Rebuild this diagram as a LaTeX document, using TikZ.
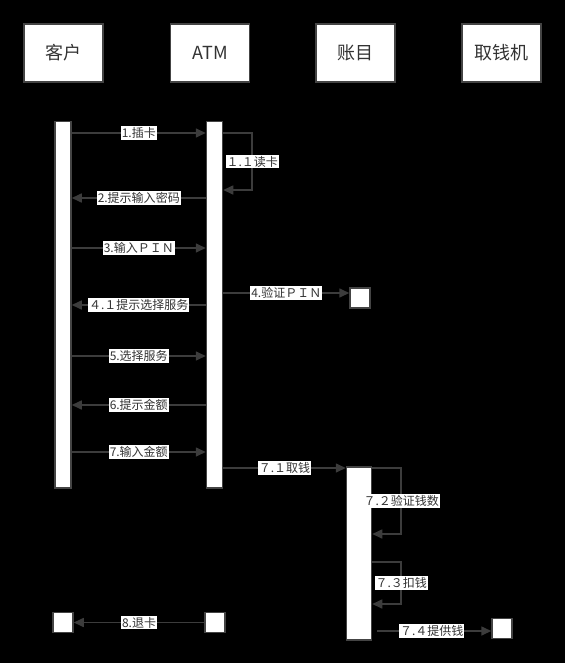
\documentclass[tikz,border=0pt]{standalone}
\usepackage{fontspec}
\setmainfont{Noto Sans CJK SC}
\usepackage{tikz}
\usetikzlibrary{arrows.meta}
\definecolor{linegray}{HTML}{3C3C3C}
\definecolor{boxgray}{HTML}{444444}
\definecolor{txtgray}{HTML}{333333}

\begin{document}
\begin{tikzpicture}[x=1pt,y=-1pt,
  actor/.style={draw=boxgray,line width=1.5pt,fill=white,text=txtgray,minimum width=79pt,minimum height=58pt,font=\fontsize{18}{21}\selectfont},
  bar/.style={draw=boxgray,line width=1.5pt,fill=white,anchor=north,inner sep=0pt},
  endbox/.style={draw=boxgray,line width=1.5pt,fill=white,minimum size=20pt,inner sep=0pt},
  msg/.style={draw=linegray,line width=1.6pt,-{Triangle[length=10pt,width=9pt]}},
  lbl/.style={fill=white,text=txtgray,inner sep=1pt,font=\fontsize{12}{14}\selectfont}]
\fill[black] (0,0) rectangle (565,663);
\useasboundingbox (0,0) rectangle (565,663);

\node[actor] (kehu) at (63.5,53) {客户};
\node[actor] (atm) at (210,53) {ATM};
\node[actor] (zhangmu) at (355.5,53) {账目};
\node[actor] (quqianji) at (501.5,53) {取钱机};

\node[bar,minimum width=16pt,minimum height=366pt] (kehubar) at (63,121) {};
\node[bar,minimum width=16pt,minimum height=366pt] (atmbar) at (214.5,121) {};
\node[bar,minimum width=25pt,minimum height=173pt] (zhangbar) at (359,466) {};

\node[endbox] (zhangbox) at (360,298) {};
\node[endbox] (qubox) at (502,628.5) {};
\node[endbox] (kehuend) at (63,622.5) {};
\node[endbox] (atmend) at (215,622.5) {};

\draw[msg] (kehubar.east |- 0,133) -- (atmbar.west |- 0,133) node[midway,lbl] {1.插卡};
\draw[msg] (atmbar.east |- 0,133) -- ++(29,0) -- ++(0,57) node[midway,lbl] {１.１读卡} -- (atmbar.east |- 0,190);
\draw[msg] (atmbar.west |- 0,198) -- (kehubar.east |- 0,198) node[midway,lbl] {2.提示输入密码};
\draw[msg] (kehubar.east |- 0,248) -- (atmbar.west |- 0,248) node[midway,lbl] {3.输入ＰＩＮ};
\draw[msg] (atmbar.east |- 0,293) -- (zhangbox.west |- 0,293) node[midway,lbl] {4.验证ＰＩＮ};
\draw[msg] (atmbar.west |- 0,305) -- (kehubar.east |- 0,305) node[midway,lbl] {４.１提示选择服务};
\draw[msg] (kehubar.east |- 0,356) -- (atmbar.west |- 0,356) node[midway,lbl] {5.选择服务};
\draw[msg] (atmbar.west |- 0,405) -- (kehubar.east |- 0,405) node[midway,lbl] {6.提示金额};
\draw[msg] (kehubar.east |- 0,452) -- (atmbar.west |- 0,452) node[midway,lbl] {7.输入金额};
\draw[msg] (atmbar.east |- 0,468) -- (zhangbar.west |- 0,468) node[midway,lbl] {７.１取钱};
\draw[msg] (zhangbar.east |- 0,468) -- ++(29,0) -- ++(0,66) node[midway,lbl] {７.２验证钱数} -- (zhangbar.east |- 0,534);
\draw[msg] (zhangbar.east |- 0,562) -- ++(29,0) -- ++(0,42) node[midway,lbl] {７.３扣钱} -- (zhangbar.east |- 0,604);
\draw[msg,shorten <=5pt] (zhangbar.east |- 0,631) -- (qubox.west |- 0,631) node[midway,lbl] {７.４提供钱};
\draw[msg] (atmend.west) -- (kehuend.east) node[midway,lbl] {8.退卡};
\end{tikzpicture}
\end{document}
